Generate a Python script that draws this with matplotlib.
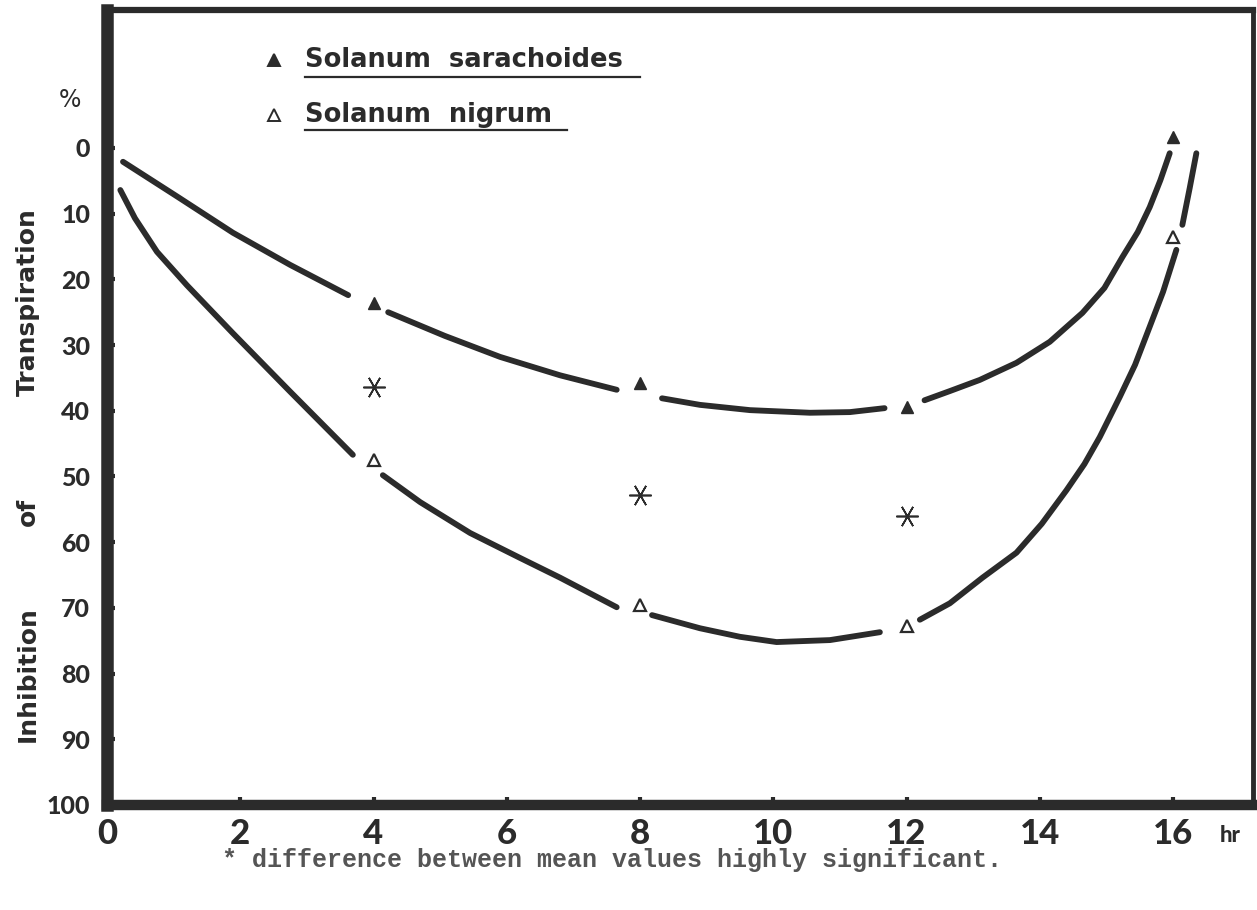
import matplotlib.pyplot as plt
from matplotlib.lines import Line2D

# measured points (hours after treatment, % inhibition of transpiration)
hours = [4, 8, 12, 16]
sarachoides = [23.6, 35.8, 39.4, -1.7]
nigrum = [47.5, 69.6, 72.8, 13.5]
signif_hours = [4, 8, 12]
signif_mid = [36.4, 52.8, 56.0]

# hand-drawn fitted curves (None = gap at a marker)
sar_curve_x = [0.24, 1.07, 1.89, 2.75, 3.62, None,
               4.22, 5.07, 5.90, 6.80, 7.65, None,
               8.33, 8.90, 9.65, 10.55, 11.15, 11.67, None,
               12.27, 12.65, 13.10, 13.65, 14.15, 14.64, 14.97, 15.24, 15.47, 15.65, 15.81, 15.95]
sar_curve_y = [2.1, 7.5, 12.9, 17.8, 22.4, None,
               25.0, 28.6, 31.8, 34.6, 36.8, None,
               38.1, 39.1, 39.9, 40.3, 40.2, 39.6, None,
               38.4, 37.0, 35.3, 32.7, 29.5, 25.1, 21.3, 16.6, 12.8, 9.0, 4.9, 0.8]

nig_curve_x = [0.20, 0.42, 0.75, 1.20, 1.89, 2.75, 3.69, None,
               4.14, 4.70, 5.45, 6.20, 6.80, 7.65, None,
               8.18, 8.90, 9.50, 10.05, 10.85, 11.60, None,
               12.20, 12.65, 13.14, 13.65, 14.03, 14.40, 14.67, 14.90, 15.20, 15.43, 15.65,
               15.85, 16.05, None,
               16.14, 16.25, 16.35]
nig_curve_y = [6.4, 10.7, 15.8, 20.9, 28.2, 37.1, 46.7, None,
               49.8, 53.9, 58.6, 62.4, 65.4, 69.9, None,
               71.1, 73.1, 74.4, 75.2, 74.9, 73.7, None,
               71.8, 69.3, 65.4, 61.6, 57.2, 52.1, 48.1, 44.0, 37.9, 33.0, 27.2,
               21.9, 15.5, None,
               11.7, 6.1, 0.8]

y_ticks = list(range(0, 101, 10))
x_ticks = list(range(0, 17, 2))

ink = '#2b2b2b'
plt.rcParams['font.family'] = ['Lato', 'DejaVu Sans']

W, H = 1257, 910
fig = plt.figure(figsize=(W / 100, H / 100), dpi=100)
ax = fig.add_axes([107 / W, 1 - 805 / H, (1253 - 107) / W, (805 - 10) / H])


def px(x, y):
    return x / W, 1 - y / H


def gaps(v):
    return [float('nan') if a is None else a for a in v]


for cx, cy in [(sar_curve_x, sar_curve_y), (nig_curve_x, nig_curve_y)]:
    ax.plot(gaps(cx), gaps(cy), color=ink, lw=4.2,
            solid_capstyle='round', solid_joinstyle='round')

ax.plot(hours, sarachoides, ls='none', marker='^', ms=9, color=ink)
ax.plot(hours, nigrum, ls='none', marker='^', ms=9, mfc='white', mec=ink, mew=1.6)
ax.plot(signif_hours, signif_mid, ls='none', marker=(6, 2, 90), ms=16, mew=1.2, color=ink)

ax.set_xlim(0, 17.2)
ax.set_ylim(100, -21)
ax.set_xticks(x_ticks)
ax.set_yticks(y_ticks)

for side, lw in [('left', 9), ('bottom', 7.5), ('top', 4.5), ('right', 3.5)]:
    ax.spines[side].set_linewidth(lw)
    ax.spines[side].set_color(ink)
    ax.spines[side].set_capstyle('projecting')

ax.tick_params(direction='in', length=6, width=3, color=ink, labelcolor=ink)
ax.tick_params(axis='y', labelsize=18, pad=12)
ax.tick_params(axis='x', labelsize=25, pad=9)
for lbl in ax.get_xticklabels() + ax.get_yticklabels():
    lbl.set_fontweight('black')

# axis text
fig.text(*px(70, 100), '%', fontsize=17, color=ink, ha='center', va='center',
         family='DejaVu Sans')
for word, yc in [('Transpiration', 302), ('of', 512), ('Inhibition', 674)]:
    fig.text(*px(28, yc), word, rotation=90, ha='center', va='center',
             fontsize=18, fontweight='bold', color=ink, family='DejaVu Sans')
fig.text(*px(1230, 836), 'hr', ha='center', va='center', fontsize=16,
         fontweight='black', color=ink)

# legend drawn by hand, underlined names
legend_rows = [('Solanum  sarachoides', ink, 60, 77, 640),
               ('Solanum  nigrum', 'white', 115, 130, 567)]
for name, face, yc, yu, xend in legend_rows:
    fig.add_artist(Line2D([274 / W], [1 - yc / H], marker='^', ms=8, mfc=face,
                          mec=ink, mew=1.4, ls='none', transform=fig.transFigure))
    fig.text(*px(305, yc), name, ha='left', va='center', fontsize=18.5,
             fontweight='bold', color=ink, family='DejaVu Sans')
    fig.add_artist(Line2D([305 / W, xend / W], [1 - yu / H] * 2, lw=1.6,
                          color=ink, transform=fig.transFigure))

fig.text(*px(612, 860), '* difference between mean values highly significant.',
         ha='center', va='center', fontsize=18, fontweight='bold',
         family='Liberation Mono', color='#555555')

fig.savefig('out.png', dpi=100)
